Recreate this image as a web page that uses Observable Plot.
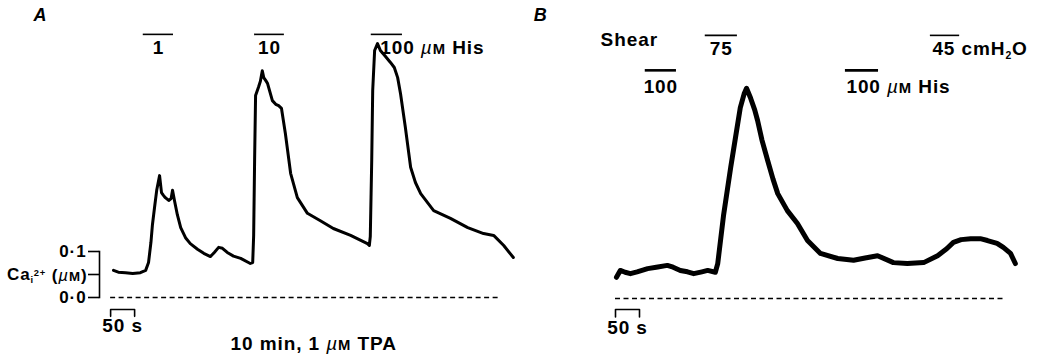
<!DOCTYPE html>
<html><head><meta charset="utf-8">
<script src="https://cdn.jsdelivr.net/npm/d3@7"></script>
<script src="https://cdn.jsdelivr.net/npm/@observablehq/plot@0.6"></script>
<style>
body{margin:0;background:#fff;}
#wrap{display:flex;width:1037px;height:358px;overflow:hidden;}
</style></head><body><div id="wrap"></div>
<script>
// ---- Panel A: Ca trace (time in s from trace start, Ca in µM)
const traceA_t  = [0,10,25,40,56,67,73,78,81,86,90,96,100,104,108,115,120,123,127,133,140,150,160,175,188,202,210,219,227,237,250,265,285,290,292,294,296,302,306,310,313,317,321,331,338,344,350,358,369,383,404,431,458,494,529,533,535,538,540,544,550,556,565,577,585,592,598,608,619,629,640,667,702,738,771,792,813,833];
const traceA_ca = [0.059,0.055,0.054,0.052,0.054,0.059,0.076,0.12,0.157,0.2,0.233,0.265,0.228,0.222,0.217,0.211,0.215,0.233,0.211,0.18,0.152,0.13,0.117,0.105,0.096,0.089,0.098,0.109,0.107,0.098,0.09,0.085,0.074,0.076,0.135,0.3,0.439,0.457,0.47,0.493,0.478,0.472,0.465,0.428,0.42,0.417,0.411,0.357,0.27,0.217,0.183,0.167,0.15,0.135,0.117,0.113,0.133,0.3,0.45,0.537,0.552,0.537,0.526,0.511,0.5,0.478,0.443,0.37,0.283,0.25,0.226,0.189,0.172,0.152,0.139,0.135,0.113,0.087];
// ---- Panel B: Ca trace
const traceB_t  = [2,10,20,31,45,67,85,108,120,135,150,163,180,192,208,213,225,240,250,260,268,273,281,290,296,305,317,328,338,358,379,400,427,463,496,520,546,579,608,642,671,690,704,720,740,760,775,795,808,823,833];
const traceB_ca = [0.046,0.061,0.057,0.054,0.058,0.065,0.068,0.072,0.068,0.061,0.058,0.054,0.058,0.061,0.057,0.076,0.18,0.285,0.35,0.415,0.445,0.457,0.437,0.41,0.387,0.345,0.3,0.26,0.228,0.191,0.163,0.126,0.098,0.087,0.083,0.088,0.093,0.078,0.076,0.078,0.093,0.108,0.122,0.128,0.13,0.13,0.126,0.12,0.111,0.098,0.076];

// ---- Applications (bars above traces), times in s
const appsA_label = ["1", "10", "100 µM His"];
const appsA_start = [62, 294, 537];
const appsA_end   = [125, 356, 602];
const appsA_row   = [0, 0, 0];
const appsB_label = ["75", "45 cmH2O", "100", "100 µM His"];
const appsB_start = [187, 656, 62, 479];
const appsB_end   = [254, 717, 127, 548];
const appsB_row   = [0, 0, 1, 1];

// ---- Axis / scale bar values
const yTicksA = [0, 0.1];
const yTickLabels = ["0·0", "0·1"];
const scaleBarSeconds = 50;

// ---- Layout (not data)
const rowBarCa  = [0.572, 0.496];
const rowTextCa = [0.542, 0.46];
const FONT = "'Liberation Sans', Arial, Helvetica, sans-serif";
const baseStyle = {fontFamily: FONT, fontSize: "19px", fontWeight: "bold", background: "white", overflow: "visible", letterSpacing: "0.9px"};

function rows(label, start, end, row) {
  return label.map((l, i) => ({label: l, start: start[i], end: end[i], row: row[i]}));
}
const appsA = rows(appsA_label, appsA_start, appsA_end, appsA_row);
const appsB = rows(appsB_label, appsB_start, appsB_end, appsB_row);
const dataA = traceA_t.map((t, i) => ({t, ca: traceA_ca[i]}));
const dataB = traceB_t.map((t, i) => ({t, ca: traceB_ca[i]}));

function appMarks(apps, anchors, dxs) {
  return apps.map((d, i) => [
    Plot.ruleY([d], {y: rowBarCa[d.row], x1: "start", x2: "end", stroke: "black", strokeWidth: d.row === 1 ? 2.6 : 1.6}),
    Plot.text([d], {x: anchors[i] === "middle" ? (d.start + d.end) / 2 : d.start, y: rowTextCa[d.row], text: "label", textAnchor: anchors[i], dx: dxs[i], fill: "black", className: "rich"})
  ]).flat();
}

function scaleBar(x0, yBar, yTick, yText) {
  const pts = [{t: x0, ca: yTick}, {t: x0, ca: yBar}, {t: x0 + scaleBarSeconds, ca: yBar}, {t: x0 + scaleBarSeconds, ca: yTick}];
  return [
    Plot.line(pts, {x: "t", y: "ca", stroke: "black", strokeWidth: 1.6}),
    Plot.text([`${scaleBarSeconds} s`], {x: x0 + scaleBarSeconds / 2, y: yText, text: d => d, fill: "black"})
  ];
}

// ---------- Panel A
const plotA = Plot.plot({
  width: 518, height: 358,
  marginLeft: 99, marginTop: 251, marginBottom: 61, marginRight: 0,
  style: baseStyle,
  x: {domain: [0, 800], range: [113, 497], axis: null},
  y: {domain: [0, 0.1]},
  marks: [
    Plot.axisY({anchor: "left", ticks: yTicksA, tickFormat: d => yTickLabels[yTicksA.indexOf(d)], tickSize: 11, tickPadding: 2, strokeWidth: 1.6, fontSize: 17, label: null}),
    Plot.axisY({anchor: "left", ticks: [0.05], tickFormat: () => "", tickSize: 11, strokeWidth: 1.6, label: null}),
    Plot.frame({anchor: "left", strokeWidth: 1.6}),
    Plot.text(["Ca_label"], {frameAnchor: "left", y: 0.05, text: d => d, textAnchor: "end", dx: -12, fontSize: 17, className: "calabel"}),
    Plot.ruleY([0], {x1: -6, x2: 802, stroke: "black", strokeWidth: 1.5, strokeDasharray: "5,3.5"}),
    Plot.line(dataA, {x: "t", y: "ca", stroke: "black", strokeWidth: 3, strokeLinejoin: "round"}),
    ...appMarks(appsA, ["middle", "middle", "start"], [0, 0, 9]),
    ...scaleBar(-6, -0.026, -0.041, -0.062),
    Plot.text(["10 min, 1 µM TPA"], {x: 417, y: -0.1, text: d => d, fill: "black", className: "rich"}),
    Plot.text(["A"], {x: -152, y: 0.613, text: d => d, fontStyle: "italic", fontSize: 18, textAnchor: "middle"})
  ]
});

// ---------- Panel B
const plotB = Plot.plot({
  width: 519, height: 358,
  marginLeft: 0, marginTop: 252, marginBottom: 60, marginRight: 0,
  style: baseStyle,
  x: {domain: [0, 800], range: [97, 481], axis: null},
  y: {domain: [0, 0.1], axis: null},
  marks: [
    Plot.ruleY([0], {x1: 0, x2: 808, stroke: "black", strokeWidth: 1.5, strokeDasharray: "5,3.5"}),
    Plot.line(dataB, {x: "t", y: "ca", stroke: "black", strokeWidth: 5, strokeLinejoin: "round"}),
    ...appMarks(appsB, ["middle", "start", "middle", "start"], [0, 2, 0, 1]),
    ...scaleBar(0, -0.024, -0.04, -0.063),
    Plot.text(["Shear"], {x: -31, y: 0.563, text: d => d, textAnchor: "start", fill: "black"}),
    Plot.text(["B"], {x: -156, y: 0.615, text: d => d, fontStyle: "italic", fontSize: 18, textAnchor: "middle"})
  ]
});

document.getElementById("wrap").append(plotA, plotB);

// ---- rich text: italic µ, small-cap M, sub/superscripts
function setParts(el, parts) {
  const sel = d3.select(el);
  sel.text(null);
  parts.forEach(p => {
    const ts = sel.append("tspan").text(p.t);
    if (p.it) ts.attr("font-style", "italic").attr("font-weight", "normal");
    if (p.sc) ts.attr("font-size", "0.78em");
    if (p.sub) ts.attr("font-size", "0.55em").attr("dy", "0.35em");
    if (p.sup) ts.attr("font-size", "0.55em").attr("dy", "-0.75em").attr("dx", "-0.05em");
    if (p.reset) ts.attr("dy", p.reset);
  });
}
function partsFor(str) {
  const out = [];
  if (str.includes("µM")) {
    const [a, b] = str.split("µM");
    if (a) out.push({t: a});
    out.push({t: "µ", it: true});
    out.push({t: "M", sc: true});
    if (b) out.push({t: b});
    return out;
  }
  if (str.includes("cmH2O")) {
    const [a] = str.split("cmH2O");
    out.push({t: a});
    out.push({t: "cmH"});
    out.push({t: "2", sub: true});
    out.push({t: "O", reset: "-0.2em"});
    return out;
  }
  return [{t: str}];
}
document.querySelectorAll("g.rich text").forEach(el => {
  setParts(el, partsFor(el.textContent));
});
document.querySelectorAll("g.calabel text").forEach(el => {
  setParts(el, [
    {t: "Ca"},
    {t: "i", sub: true},
    {t: "2+", sup: true},
    {t: " (", reset: "0.3em"},
    {t: "µ", it: true},
    {t: "M", sc: true},
    {t: ")"}
  ]);
});
</script></body></html>
